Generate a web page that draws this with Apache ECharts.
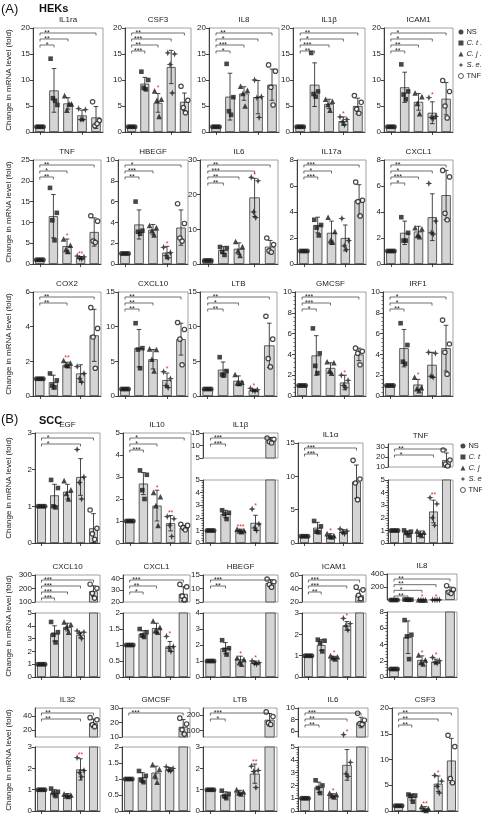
<!DOCTYPE html>
<html><head><meta charset="utf-8">
<script src="https://cdn.jsdelivr.net/npm/echarts@6/dist/echarts.min.js"></script>
<style>html,body{margin:0;padding:0;background:#fff}#c{width:482px;height:815px}</style>
</head><body><div id="c"></div>
<script>
// ---------------- DATA ----------------
const groups = ['NS', 'C. t .', 'C. j .', 'S. e.', 'TNF'];

// (A) HEKs
const hekGenes = ['IL1ra','CSF3','IL8','IL1β','ICAM1','TNF','HBEGF','IL6','IL17a','CXCL1','COX2','CXCL10','LTB','GMCSF','IRF1'];
const hekAxes = [[0,20,5],[0,20,5],[0,20,5],[0,20,5],[0,20,5],[0,25,5],[0,10,2],[0,30,10],[0,8,2],[0,8,2],[0,6,2],[0,15,5],[0,15,5],[0,10,2],[0,10,2]];
const hekMeans = [
  [1,8.0,5.5,3.2,2.8],[1,9.3,5.6,12.5,5.8],[1,6.8,7.4,6.7,9.1],[1,9.1,5.4,2.1,5.0],[1,8.6,5.8,3.7,6.4],
  [1,11.5,4.3,1.5,7.7],[1,3.8,3.3,1.1,3.5],[1,4.0,4.4,19.2,5.0],[1,3.0,2.4,2.0,4.9],[1,2.4,2.5,3.6,5.3],
  [1,0.8,1.8,1.3,3.5],[1,6.9,5.3,2.3,8.2],[1,3.8,2.2,0.8,7.3],[1,3.9,2.7,1.3,4.0],[1,4.6,1.1,3.0,4.6]];
const hekSD = [
  [0,4.2,1.1,1.0,2.1],[0,1.2,1.8,3.2,1.7],[0,4.5,1.3,3.2,3.0],[0,4.2,0.9,0.8,1.5],[0,2.9,1.6,2.1,3.1],
  [0,5.2,1.7,0.3,3.4],[0,1.4,0.5,0.6,1.7],[0,1.0,1.7,5.5,1.8],[0,0.6,0.9,1.0,1.2],[0,0.9,0.4,1.8,1.9],
  [0,0.4,0.15,0.5,1.5],[0,2.7,1.4,1.0,2.3],[0,1.1,0.7,0.15,3.2],[0,1.9,0.5,0.7,0.6],[0,1.8,0.5,1.2,2.2]];
const hekPoints = [
  [[1,1,1,1],[14.1,5.2,6.5,6.0],[7.0,5.4,4.2,5.4],[4.5,4.3,2.4,2.4],[5.8,2.2,1.2,1.6]],
  [[1,1,1,1],[11.6,10.0,8.5,8.2],[7.9,6.3,6.1,3.0],[15.2,15.0,13.0,7.5],[8.8,6.1,4.7,3.7]],
  [[1,1,1,1],[13.1,6.7,4.0,3.3],[8.8,8.0,7.4,5.0],[10.0,6.8,6.6,2.8],[12.9,11.7,8.6,5.2]],
  [[1,1,1,1],[15.2,7.8,7.3,6.8],[6.3,5.9,5.3,4.2],[2.9,2.4,1.9,1.4],[7.0,5.7,4.4,3.6]],
  [[1,1,1,1],[13.0,7.8,7.2,6.3],[7.5,6.8,5.5,3.5],[6.6,3.0,2.8,2.6],[9.9,7.8,5.0,2.7]],
  [[1,1,1,1],[18.3,12.3,10.5,5.7],[6.0,4.5,3.5,3.0],[1.9,1.7,1.4,1.2],[11.6,10.3,5.5,5.2]],
  [[1,1,1,1],[6.0,3.2,3.1,2.9],[3.7,3.5,3.2,2.8],[1.6,1.1,0.8,0.6],[5.8,3.9,2.5,2.2]],
  [[1,1,1,1],[4.9,4.6,3.5,2.6],[6.5,5.0,3.8,2.5],[25.0,24.0,15.0,13.4],[7.5,5.6,3.8,3.4]],
  [[1,1,1,1],[3.4,3.0,2.8,2.2],[3.6,2.5,1.8,1.7],[3.5,1.8,1.4,1.1],[6.3,4.9,4.8,3.7]],
  [[1,1,1,1],[3.6,2.4,1.8,1.8],[2.8,2.7,2.2,2.1],[6.2,3.3,2.4,2.3],[7.2,6.7,3.9,3.4]],
  [[1,1,1,1],[1.3,0.9,0.6,0.5],[2.05,1.9,1.8,1.75],[1.7,1.3,1.0,0.8],[5.1,3.9,3.4,1.6]],
  [[1,1,1,1],[10.5,6.9,6.7,4.0],[6.8,6.7,5.3,3.6],[3.5,2.5,1.5,1.2],[10.6,9.6,8.2,4.5]],
  [[1,1,1,1],[5.6,3.6,3.1,3.0],[3.1,2.0,1.9,1.8],[1.1,0.9,0.8,0.7],[11.5,8.2,5.4,4.2]],
  [[1,1,1,1],[6.5,4.1,2.9,2.2],[3.3,3.2,2.4,2.2],[2.0,1.5,1.0,0.8],[4.6,4.3,4.1,3.0]],
  [[1,1,1,1],[7.0,4.9,3.3,3.1],[1.8,0.8,0.7,0.5],[4.2,4.1,1.9,1.8],[7.3,5.0,4.2,2.1]]];
const hekSig = [
  [[1,'*'],[2,'**'],[4,'**']],[[1,'***'],[2,'**'],[3,'***'],[4,'**']],[[1,'*'],[2,'***'],[3,'*'],[4,'**']],
  [[1,'**'],[2,'***'],[3,'*'],[4,'**']],[[1,'**'],[2,'**'],[3,'*'],[4,'*']],
  [[1,'**'],[2,'*'],[4,'**']],[[1,'**'],[2,'***'],[4,'*']],[[1,'**'],[2,'**'],[3,'***'],[4,'**']],
  [[1,'***'],[2,'*'],[4,'***']],[[1,'*'],[2,'***'],[3,'*'],[4,'**']],
  [[2,'**'],[4,'**']],[[1,'**'],[2,'**'],[4,'**']],[[1,'**'],[2,'*'],[4,'**']],
  [[1,'*'],[2,'***'],[4,'***']],[[1,'**'],[3,'*'],[4,'*']]];
const hekRedSig = [[],[[2,'*']],[],[[3,'*']],[[3,'*']],[[2,'*'],[3,'**']],[[3,'*']],[[3,'*']],[],[],
  [[2,'**']],[[3,'*']],[[3,'*']],[[3,'*']],[[2,'*']]];

// (B) SCC
const sccGenes = ['EGF','IL10','IL1β','IL1α','TNF','CXCL10','CXCL1','HBEGF','ICAM1','IL8','IL32','GMCSF','LTB','IL6','CSF3'];
const sccLowerAxes = [[0,3,1],[0,5,1],[0,5,1],[0,15,5],[0,5,1],[0,5,1],[0,2,0.5],[0,4,1],[0,3,1],[0,8,2],[0,3,1],[0,2,0.5],[0,3,1],[0,5,1],[0,20,5]];
const sccUpperAxes = [null,null,[5,15,[5,10,15]],null,[10,33,[10,20,30]],[100,300,[100,200,300]],[20,43,[20,30,40]],
  [5,15,[5,10,15]],[20,60,[20,40,60]],[0,400,[200,400]],[10,52,[20,40]],[10,30,[10,20,30]],[60,245,[100,200]],[5,10,[6,8,10]],null];
const sccMeans = [
  [1,1.3,1.4,1.8,0.4],[1,2.7,1.7,0.9,0.7],[1,2.3,1.0,1.6,12],[1,2.3,1.1,1.7,9.2],[1,0.8,0.8,2.5,17],
  [1,3.4,3.9,3.3,180],[1,1.35,1.53,0.96,27],[1,1.8,1.1,0.9,12],[1,1.5,0.9,2.4,30],[1,4.9,2.1,1.9,150],
  [1,0.85,0.75,1.95,30],[1,1.05,1.2,1.3,17],[1,0.75,0.87,1.75,170],[1,1.85,1.2,3.6,7.5],[1,2.7,0.5,5.3,9.8]];
const sccSD = [
  [0,0.3,0.2,0.5,0.4],[0,0.5,0.7,0.35,0.1],[0,0.3,0.1,0.6,1.2],[0,0.8,0.3,0.3,2.5],[0,0.15,0.15,0.9,7],
  [0,0.6,0.3,0.2,40],[0,0.1,0.15,0.15,6],[0,0.35,0.2,0.1,1.3],[0,0.25,0.07,0.2,8],[0,2.0,0.5,0.3,50],
  [0,0.15,0.07,0.5,6],[0,0.15,0.2,0.06,5],[0,0.15,0.1,0.45,40],[0,0.4,0.15,1.2,0.9],[0,0.6,0.35,1.5,4.3]];
const sccPoints = [
  [[1,1,1,1],[1.72,1.5,1.0,0.97],[1.7,1.45,1.35,1.2],[2.55,1.8,1.65,1.2],[0.9,0.4,0.25,0.1]],
  [[1,1,1,1],[3.3,3.1,2.4,2.0],[2.3,2.1,1.7,0.8],[1.2,1.1,0.8,0.3],[0.85,0.8,0.7,0.6]],
  [[1,1,1,1],[2.6,2.4,2.3,1.9],[1.1,1.0,0.95,0.9],[2.7,1.5,1.2,1.0],[13,12.5,11.5,11]],
  [[1,1,1,1],[3.3,2.5,1.7,1.6],[1.4,1.1,1.0,0.9],[2.1,1.8,1.6,1.4],[12.4,9.6,9.0,6.5]],
  [[1,1,1,1],[1.0,0.9,0.8,0.6],[0.95,0.85,0.7,0.6],[3.6,3.1,2.0,1.4],[27,17,13,11]],
  [[1,1,1,1],[4.3,3.5,3.3,2.7],[4.3,4.1,3.9,3.5],[3.6,3.5,3.4,3.0],[232,202,165,129]],
  [[1,1,1,1],[1.5,1.4,1.3,1.25],[1.75,1.55,1.45,1.4],[1.27,0.95,0.9,0.8],[35,33,25,22]],
  [[1,1,1,1],[2.3,1.8,1.7,1.4],[1.2,1.1,0.9,0.8],[1.0,0.9,0.85,0.8],[13.5,12.5,11.5,10.5]],
  [[1,1,1,1],[1.75,1.7,1.6,1.2],[1.0,0.95,0.9,0.85],[2.75,2.5,2.4,2.2],[42,38,30,25]],
  [[1,1,1,1],[7.0,5.2,5.0,2.2],[2.7,2.1,1.8,1.6],[2.4,2.0,1.8,1.7],[220,160,120,100]],
  [[1,1,1,1],[1.05,0.9,0.85,0.7],[0.8,0.75,0.7,0.68],[2.5,1.9,1.8,1.6],[38,35,28,25]],
  [[1,1,1,1],[1.25,1.1,0.97,0.9],[1.45,1.3,1.1,0.9],[1.38,1.33,1.28,1.25],[23,19,15,12]],
  [[1,1,1,1],[0.95,0.8,0.7,0.6],[1.0,0.9,0.85,0.8],[2.1,1.9,1.85,1.1],[220,190,150,140]],
  [[1,1,1,1],[2.4,2.0,1.8,1.4],[1.4,1.3,1.2,1.1],[5.4,3.8,2.9,2.7],[9.1,7.9,7.3,7.2]],
  [[1,1,1,1],[3.2,3.0,2.9,1.8],[0.9,0.5,0.3,0.1],[6.9,5.8,4.8,3.5],[14.7,12.5,6.3,5.5]]];
const sccSig = [
  [[3,'*'],[4,'*']],[[1,'***'],[2,'*'],[4,'*']],[[1,'***'],[4,'***']],[[1,'***'],[4,'***']],[[3,'*'],[4,'**']],
  [[1,'***'],[2,'***'],[3,'***'],[4,'***']],[[1,'*'],[2,'**'],[4,'***']],[[1,'**'],[4,'***']],[[1,'**'],[3,'***'],[4,'***']],[[1,'**'],[2,'*'],[3,'**'],[4,'**']],
  [[3,'**'],[4,'**']],[[4,'***']],[[1,'*'],[4,'***']],[[1,'**'],[3,'**'],[4,'***']],[[1,'**'],[3,'**'],[4,'**']]];
const sccRedSig = [[],[[2,'*'],[3,'**']],[[2,'***'],[3,'*']],[[2,'*']],[[3,'**']],
  [],[[3,'*']],[[2,'*'],[3,'*']],[[2,'*'],[3,'*']],[[2,'*'],[3,'*']],
  [[3,'**']],[],[[3,'**']],[[2,'*'],[3,'*']],[[2,'**'],[3,'*']]];

// ---------------- LAYOUT / STYLE ----------------
const hekLayout = [
  [33,103,28,132],[125,191,28,132],[209,279,28,132],[293,365,28,132],[384,453,28,132],
  [33,101,160,264],[118,188,160,264],[200,278,160,264],[297,366,160,264],[384,453,160,264],
  [33,101,292,396],[118,188,292,396],[200,277,292,396],[295,366,292,396],[383,453,292,396]];
const sccLayout = [
  [35,100,433,543],[123,191,433,543],[203,278,433,458,480,543],[298,363,443,543],[388,453,444,467,480,543],
  [35,100,575,602,613,677],[123,190,575,602,613,677],[203,278,575,602,613,677],[302,366,575,602,613,677],[387,457,574,600,612,677],
  [35,100,708,737,747,811],[122,190,708,737,747,811],[203,277,708,737,747,811],[298,368,708,737,747,811],[392,458,708,811]];
const hekMinor = [13,14];
const sccMinorLower = [2,4,9,13];
const sccMinorUpper = [2,7,9,10,12,13];

const FONT = '"Liberation Sans", Arial, Helvetica, sans-serif';
const INK = '#1a1a1a';
const starPath = 'path://M0,-10L2.6,-2.6L10,0L2.6,2.6L0,10L-2.6,2.6L-10,0L-2.6,-2.6Z';
const symbols = ['circle','rect','triangle',starPath,'circle'];
const symSizes = [5,4.6,5.6,7,4.4];
const jitter = [-3.4, 3.4, -1.1, 1.1];

const option = {animation:false, backgroundColor:'#fff', grid:[], xAxis:[], yAxis:[], series:[], graphic:[], legend:[]};

function addSeg(l, r, t, b, ax, isUpper, hasTicksBelow, minor) {
  const gi = option.grid.length;
  option.grid.push({left:l, top:t, width:r-l, height:b-t, show:true, borderColor:'#8a8a8a', borderWidth:0.8, backgroundColor:'transparent'});
  option.xAxis.push({type:'category', gridIndex:gi, data:groups,
    axisLine:{show:!isUpper, lineStyle:{color:INK, width:0.8}},
    axisTick:{show:hasTicksBelow, alignWithLabel:true, length:3, lineStyle:{color:INK, width:0.8}},
    axisLabel:{show:false}, splitLine:{show:false}});
  const ya = {type:'value', gridIndex:gi, min:ax[0], max:ax[1],
    axisLine:{show:true, lineStyle:{color:INK, width:0.8}},
    axisTick:{show:true, length:3, lineStyle:{color:INK, width:0.8}},
    minorTick:{show:!!minor, splitNumber:5, length:1.5, lineStyle:{color:INK, width:0.6}},
    axisLabel:{fontSize:8, color:'#222', margin:3, fontFamily:FONT},
    splitLine:{show:false}};
  if (Array.isArray(ax[2])) {
    ya.axisLabel.customValues = ax[2];
    ya.axisTick.customValues = ax[2];
    ya.minorTick.show = false;
  } else {
    ya.interval = ax[2];
  }
  option.yAxis.push(ya);
  return gi;
}

function errRender(mean, sd, yMin, yMax) {
  return function(params, api) {
    const i = params.dataIndex, m = mean[i], s = sd[i];
    if (!s) return null;
    const a = m - s, bb = m + s;
    const lo = Math.max(a, yMin), hi = Math.min(bb, yMax);
    if (hi <= lo) return null;
    const p0 = api.coord([i, lo]), p1 = api.coord([i, hi]);
    const x = p0[0], cw = 2.3, st = {stroke:INK, lineWidth:0.8};
    const ch = [{type:'line', shape:{x1:x, y1:p0[1], x2:x, y2:p1[1]}, style:st}];
    if (bb <= yMax) ch.push({type:'line', shape:{x1:x-cw, y1:p1[1], x2:x+cw, y2:p1[1]}, style:st});
    if (a >= yMin) ch.push({type:'line', shape:{x1:x-cw, y1:p0[1], x2:x+cw, y2:p0[1]}, style:st});
    return {type:'group', children:ch};
  };
}

function sigRender(sig, yMax, spacing) {
  return function(params, api) {
    const k = params.dataIndex, tgt = sig[k][0], lab = sig[k][1];
    const pTop = api.coord([0, yMax]);
    const y = pTop[1] + 5 + k * spacing;
    const x0 = pTop[0], x1 = api.coord([tgt, yMax])[0], xm = (x0 + api.coord([1, yMax])[0]) / 2;
    return {type:'group', children:[
      {type:'polyline', shape:{points:[[x0, y+2.5],[x0, y],[x1, y],[x1, y+2.5]]}, style:{stroke:'#333', lineWidth:0.7, fill:null}},
      {type:'text', x:xm, y:y+3.2, style:{text:lab, fontSize:7, fontFamily:FONT, fill:'#222', align:'center', verticalAlign:'bottom'}}
    ]};
  };
}

function redRender(red, topVals, yMin, yMax) {
  return function(params, api) {
    const g = red[params.dataIndex][0], lab = red[params.dataIndex][1];
    const v = topVals[g];
    if (v < yMin || v > yMax) return null;
    const p = api.coord([g, v]);
    return {type:'text', x:p[0], y:p[1]+1, style:{text:lab, fontSize:7, fontFamily:FONT, fill:'#e0302a', align:'center', verticalAlign:'bottom'}};
  };
}

function addPanel(name, geom, ax, upAx, means, sd, pts, sig, red, minL, minU) {
  const l = geom[0], r = geom[1];
  const segs = [];
  if (upAx) {
    segs.push({t:geom[2], b:geom[3], ax:upAx, upper:true, minor:minU});
    segs.push({t:geom[4], b:geom[5], ax:ax, upper:false, minor:minL});
  } else {
    segs.push({t:geom[2], b:geom[3], ax:ax, upper:false, minor:minL});
  }
  const topVals = means.map((m, g) => Math.max(m + sd[g], Math.max.apply(null, pts[g])));
  const sigSorted = sig.slice().sort((a, b) => b[0] - a[0]);
  segs.forEach((s, si) => {
    const gi = addSeg(l, r, s.t, s.b, s.ax, s.upper, !s.upper, s.minor);
    const yMin = s.ax[0], yMax = s.ax[1];
    option.series.push({type:'bar', xAxisIndex:gi, yAxisIndex:gi, data:means, barWidth:'68%', clip:true, silent:true, z:2,
      itemStyle:{color:'#d5d5d5', borderColor:'#3a3a3a', borderWidth:0.8}});
    option.series.push({type:'custom', xAxisIndex:gi, yAxisIndex:gi, data:means.map((m, i) => [i, m]),
      renderItem:errRender(means, sd, yMin, yMax), silent:true, z:3});
    pts.forEach((arr, g) => {
      option.series.push({type:'scatter', name:groups[g], xAxisIndex:gi, yAxisIndex:gi, silent:true, z:4, clip:true,
        symbol:symbols[g], symbolSize:symSizes[g],
        itemStyle: g === 4 ? {color:'#fff', borderColor:INK, borderWidth:1.2} : {color:INK},
        data:arr.map((v, k) => ({value:[g, v], symbolOffset:[jitter[k], 0]}))});
    });
    if (si === 0 && sigSorted.length) {
      const h = s.b - s.t;
      const spacing = Math.min(6, (h - 9) / Math.max(1, sigSorted.length - 1));
      option.series.push({type:'custom', xAxisIndex:gi, yAxisIndex:gi, data:sigSorted.map((x, k) => [0, yMax]),
        renderItem:sigRender(sigSorted, yMax, spacing), silent:true, z:5});
    }
    if (red.length) {
      option.series.push({type:'custom', xAxisIndex:gi, yAxisIndex:gi, data:red.map(x => [x[0], 0]),
        renderItem:redRender(red, topVals, yMin, yMax), silent:true, z:5});
    }
  });
  option.graphic.push({type:'text', x:(l + r) / 2, y:geom[2] - 8, silent:true,
    style:{text:name, fontSize:8, fontFamily:FONT, fill:'#222', align:'center', verticalAlign:'middle'}});
}

hekGenes.forEach((n, i) => addPanel(n, hekLayout[i], hekAxes[i], null, hekMeans[i], hekSD[i], hekPoints[i], hekSig[i], hekRedSig[i], hekMinor.includes(i), false));
sccGenes.forEach((n, i) => addPanel(n, sccLayout[i], sccLowerAxes[i], sccUpperAxes[i], sccMeans[i], sccSD[i], sccPoints[i], sccSig[i], sccRedSig[i], sccMinorLower.includes(i), sccMinorUpper.includes(i)));

// y-axis names
[80, 212, 344, 488, 626, 760].forEach(c => {
  option.graphic.push({type:'text', x:9, y:c, rotation:Math.PI/2, silent:true,
    style:{text:'Change in mRNA level (fold)', fontSize:8, fontFamily:FONT, fill:'#222', align:'center', verticalAlign:'middle'}});
});
// headers
option.graphic.push({type:'text', x:1, y:9, silent:true, style:{text:'(A)', fontSize:13, fontFamily:FONT, fill:'#111', align:'left', verticalAlign:'middle'}});
option.graphic.push({type:'text', x:39, y:9, silent:true, style:{text:'HEKs', fontSize:11, fontWeight:'bold', fontFamily:FONT, fill:'#111', align:'left', verticalAlign:'middle'}});
option.graphic.push({type:'text', x:1, y:419, silent:true, style:{text:'(B)', fontSize:13, fontFamily:FONT, fill:'#111', align:'left', verticalAlign:'middle'}});
option.graphic.push({type:'text', x:39, y:421, silent:true, style:{text:'SCC', fontSize:11, fontWeight:'bold', fontFamily:FONT, fill:'#111', align:'left', verticalAlign:'middle'}});

function legendAt(left, top) {
  return {left:left, top:top, orient:'vertical', padding:0, itemWidth:5, itemHeight:5, itemGap:1, selectedMode:false,
    textStyle:{fontSize:7.5, fontFamily:FONT, color:'#222', lineHeight:10, padding:[0,0,0,-2], rich:{i:{fontStyle:'italic', fontSize:7.5, fontFamily:FONT, color:'#222'}}},
    formatter: n => (n === 'NS' || n === 'TNF') ? n : '{i|' + n + '}',
    data: groups.map((g, i) => ({name:g, icon:symbols[i],
      itemStyle: i === 4 ? {color:'#fff', borderColor:INK, borderWidth:0.9} : {color:INK}}))};
}
option.legend = [legendAt(458, 27), legendAt(460, 441)];

const chart = echarts.init(document.getElementById('c'), null, {renderer:'canvas'});
chart.setOption(option);
</script></body></html>
